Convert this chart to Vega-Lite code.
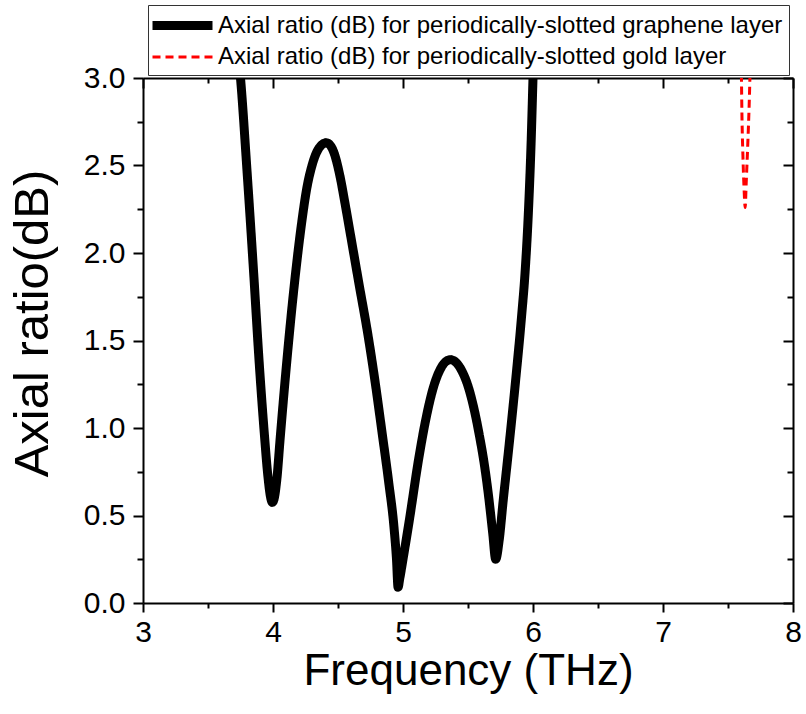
{
  "$schema": "https://vega.github.io/schema/vega-lite/v6.json",
  "width": 650,
  "height": 525,
  "autosize": "none",
  "padding": {"left": 143, "top": 78, "right": 13, "bottom": 111},
  "background": "white",
  "config": {
    "view": {"stroke": null},
    "font": "Liberation Sans",
    "axis": {"domainColor": "black", "domainWidth": 2, "tickColor": "black", "tickWidth": 2, "grid": false, "labelColor": "black", "titleColor": "black", "labelFont": "Liberation Sans", "titleFont": "Liberation Sans", "titleFontWeight": "normal"}
  },
  "data": {"values": [
    {"f": 3.735, "ar": 3.12, "s": "Axial ratio (dB) for periodically-slotted graphene layer"},
    {"f": 3.75, "ar": 3.0, "s": "Axial ratio (dB) for periodically-slotted graphene layer"},
    {"f": 3.80, "ar": 2.47, "s": "Axial ratio (dB) for periodically-slotted graphene layer"},
    {"f": 3.85, "ar": 1.90, "s": "Axial ratio (dB) for periodically-slotted graphene layer"},
    {"f": 3.895, "ar": 1.36, "s": "Axial ratio (dB) for periodically-slotted graphene layer"},
    {"f": 3.933, "ar": 0.97, "s": "Axial ratio (dB) for periodically-slotted graphene layer"},
    {"f": 3.96, "ar": 0.73, "s": "Axial ratio (dB) for periodically-slotted graphene layer"},
    {"f": 3.98, "ar": 0.61, "s": "Axial ratio (dB) for periodically-slotted graphene layer"},
    {"f": 3.995, "ar": 0.575, "s": "Axial ratio (dB) for periodically-slotted graphene layer"},
    {"f": 4.01, "ar": 0.60, "s": "Axial ratio (dB) for periodically-slotted graphene layer"},
    {"f": 4.03, "ar": 0.71, "s": "Axial ratio (dB) for periodically-slotted graphene layer"},
    {"f": 4.054, "ar": 0.93, "s": "Axial ratio (dB) for periodically-slotted graphene layer"},
    {"f": 4.10, "ar": 1.33, "s": "Axial ratio (dB) for periodically-slotted graphene layer"},
    {"f": 4.17, "ar": 1.86, "s": "Axial ratio (dB) for periodically-slotted graphene layer"},
    {"f": 4.22, "ar": 2.17, "s": "Axial ratio (dB) for periodically-slotted graphene layer"},
    {"f": 4.26, "ar": 2.37, "s": "Axial ratio (dB) for periodically-slotted graphene layer"},
    {"f": 4.30, "ar": 2.50, "s": "Axial ratio (dB) for periodically-slotted graphene layer"},
    {"f": 4.35, "ar": 2.595, "s": "Axial ratio (dB) for periodically-slotted graphene layer"},
    {"f": 4.41, "ar": 2.63, "s": "Axial ratio (dB) for periodically-slotted graphene layer"},
    {"f": 4.46, "ar": 2.59, "s": "Axial ratio (dB) for periodically-slotted graphene layer"},
    {"f": 4.515, "ar": 2.44, "s": "Axial ratio (dB) for periodically-slotted graphene layer"},
    {"f": 4.55, "ar": 2.30, "s": "Axial ratio (dB) for periodically-slotted graphene layer"},
    {"f": 4.59, "ar": 2.13, "s": "Axial ratio (dB) for periodically-slotted graphene layer"},
    {"f": 4.66, "ar": 1.83, "s": "Axial ratio (dB) for periodically-slotted graphene layer"},
    {"f": 4.733, "ar": 1.52, "s": "Axial ratio (dB) for periodically-slotted graphene layer"},
    {"f": 4.79, "ar": 1.24, "s": "Axial ratio (dB) for periodically-slotted graphene layer"},
    {"f": 4.836, "ar": 0.99, "s": "Axial ratio (dB) for periodically-slotted graphene layer"},
    {"f": 4.89, "ar": 0.69, "s": "Axial ratio (dB) for periodically-slotted graphene layer"},
    {"f": 4.931, "ar": 0.43, "s": "Axial ratio (dB) for periodically-slotted graphene layer"},
    {"f": 4.95, "ar": 0.25, "s": "Axial ratio (dB) for periodically-slotted graphene layer"},
    {"f": 4.962, "ar": 0.09, "s": "Axial ratio (dB) for periodically-slotted graphene layer"},
    {"f": 4.975, "ar": 0.14, "s": "Axial ratio (dB) for periodically-slotted graphene layer"},
    {"f": 5.0, "ar": 0.25, "s": "Axial ratio (dB) for periodically-slotted graphene layer"},
    {"f": 5.046, "ar": 0.46, "s": "Axial ratio (dB) for periodically-slotted graphene layer"},
    {"f": 5.122, "ar": 0.83, "s": "Axial ratio (dB) for periodically-slotted graphene layer"},
    {"f": 5.173, "ar": 1.04, "s": "Axial ratio (dB) for periodically-slotted graphene layer"},
    {"f": 5.237, "ar": 1.24, "s": "Axial ratio (dB) for periodically-slotted graphene layer"},
    {"f": 5.29, "ar": 1.34, "s": "Axial ratio (dB) for periodically-slotted graphene layer"},
    {"f": 5.33, "ar": 1.38, "s": "Axial ratio (dB) for periodically-slotted graphene layer"},
    {"f": 5.365, "ar": 1.39, "s": "Axial ratio (dB) for periodically-slotted graphene layer"},
    {"f": 5.40, "ar": 1.38, "s": "Axial ratio (dB) for periodically-slotted graphene layer"},
    {"f": 5.45, "ar": 1.33, "s": "Axial ratio (dB) for periodically-slotted graphene layer"},
    {"f": 5.50, "ar": 1.24, "s": "Axial ratio (dB) for periodically-slotted graphene layer"},
    {"f": 5.54, "ar": 1.13, "s": "Axial ratio (dB) for periodically-slotted graphene layer"},
    {"f": 5.587, "ar": 0.96, "s": "Axial ratio (dB) for periodically-slotted graphene layer"},
    {"f": 5.63, "ar": 0.77, "s": "Axial ratio (dB) for periodically-slotted graphene layer"},
    {"f": 5.66, "ar": 0.60, "s": "Axial ratio (dB) for periodically-slotted graphene layer"},
    {"f": 5.69, "ar": 0.40, "s": "Axial ratio (dB) for periodically-slotted graphene layer"},
    {"f": 5.713, "ar": 0.25, "s": "Axial ratio (dB) for periodically-slotted graphene layer"},
    {"f": 5.74, "ar": 0.36, "s": "Axial ratio (dB) for periodically-slotted graphene layer"},
    {"f": 5.77, "ar": 0.58, "s": "Axial ratio (dB) for periodically-slotted graphene layer"},
    {"f": 5.82, "ar": 0.93, "s": "Axial ratio (dB) for periodically-slotted graphene layer"},
    {"f": 5.87, "ar": 1.30, "s": "Axial ratio (dB) for periodically-slotted graphene layer"},
    {"f": 5.91, "ar": 1.62, "s": "Axial ratio (dB) for periodically-slotted graphene layer"},
    {"f": 5.94, "ar": 1.90, "s": "Axial ratio (dB) for periodically-slotted graphene layer"},
    {"f": 5.965, "ar": 2.24, "s": "Axial ratio (dB) for periodically-slotted graphene layer"},
    {"f": 5.985, "ar": 2.62, "s": "Axial ratio (dB) for periodically-slotted graphene layer"},
    {"f": 6.0, "ar": 3.0, "s": "Axial ratio (dB) for periodically-slotted graphene layer"},
    {"f": 6.006, "ar": 3.15, "s": "Axial ratio (dB) for periodically-slotted graphene layer"},
    {"f": 7.602, "ar": 3.1, "s": "Axial ratio (dB) for periodically-slotted gold layer"},
    {"f": 7.607, "ar": 2.8, "s": "Axial ratio (dB) for periodically-slotted gold layer"},
    {"f": 7.615, "ar": 2.55, "s": "Axial ratio (dB) for periodically-slotted gold layer"},
    {"f": 7.624, "ar": 2.36, "s": "Axial ratio (dB) for periodically-slotted gold layer"},
    {"f": 7.632, "ar": 2.26, "s": "Axial ratio (dB) for periodically-slotted gold layer"},
    {"f": 7.64, "ar": 2.4, "s": "Axial ratio (dB) for periodically-slotted gold layer"},
    {"f": 7.652, "ar": 2.62, "s": "Axial ratio (dB) for periodically-slotted gold layer"},
    {"f": 7.663, "ar": 2.85, "s": "Axial ratio (dB) for periodically-slotted gold layer"},
    {"f": 7.672, "ar": 3.1, "s": "Axial ratio (dB) for periodically-slotted gold layer"}
  ]},
  "encoding": {
    "color": {"field": "s", "type": "nominal", "scale": {"domain": ["Axial ratio (dB) for periodically-slotted graphene layer", "Axial ratio (dB) for periodically-slotted gold layer"], "range": ["#000000", "#ff0000"]},
      "legend": {"title": null, "orient": "none", "legendX": 5, "legendY": -73, "symbolType": "M-3,0H3", "symbolSize": 400, "labelFontSize": 24, "labelFont": "Liberation Sans", "labelColor": "black", "padding": 6, "rowPadding": 1, "symbolOffset": 14, "labelOffset": 21, "strokeColor": "#333333", "fillColor": "white", "labelLimit": 800, "symbolStrokeWidth": 3}},
    "strokeDash": {"field": "s", "type": "nominal", "scale": {"domain": ["Axial ratio (dB) for periodically-slotted graphene layer", "Axial ratio (dB) for periodically-slotted gold layer"], "range": [[1, 0], [8, 5]]}},
    "strokeWidth": {"field": "s", "type": "ordinal", "scale": {"domain": ["Axial ratio (dB) for periodically-slotted graphene layer", "Axial ratio (dB) for periodically-slotted gold layer"], "range": [9, 3]}}
  },
  "layer": [
    {
      "transform": [{"filter": "indexof(datum.s, 'graphene') >= 0"}],
      "mark": {"type": "line", "interpolate": "monotone", "clip": true, "strokeCap": "round", "strokeJoin": "round"},
      "encoding": {
        "x": {"field": "f", "type": "quantitative", "scale": {"domain": [3, 8], "nice": false, "zero": false},
          "axis": {"orient": "bottom", "values": [3, 3.5, 4, 4.5, 5, 5.5, 6, 6.5, 7, 7.5, 8], "format": ".0f", "labelExpr": "datum.value % 1 === 0 ? datum.label : ''", "tickSize": {"condition": {"test": "datum.value % 1 === 0", "value": 9}, "value": 5}, "labelFontSize": 30, "labelPadding": 5, "title": "Frequency (THz)", "titleFontSize": 44, "titlePadding": 2, "labelFlush": false}},
        "y": {"field": "ar", "type": "quantitative", "scale": {"domain": [0, 3], "nice": false, "zero": false},
          "axis": {"orient": "left", "values": [0, 0.25, 0.5, 0.75, 1, 1.25, 1.5, 1.75, 2, 2.25, 2.5, 2.75, 3], "format": ".1f", "labelExpr": "datum.value % 0.5 === 0 ? datum.label : ''", "tickSize": {"condition": {"test": "datum.value % 0.5 === 0", "value": 10}, "value": 6}, "labelFontSize": 30, "labelPadding": 8, "title": "Axial ratio(dB)", "titleFontSize": 49, "titlePadding": 26, "titleY": 245, "labelFlush": false}}
      }
    },
    {
      "transform": [{"filter": "indexof(datum.s, 'gold') >= 0"}],
      "mark": {"type": "line", "interpolate": "monotone", "clip": true},
      "encoding": {
        "x": {"field": "f", "type": "quantitative", "scale": {"domain": [3, 8], "nice": false, "zero": false},
          "axis": {"orient": "top", "values": [3, 3.5, 4, 4.5, 5, 5.5, 6, 6.5, 7, 7.5, 8], "labels": false, "title": null, "tickSize": {"condition": {"test": "datum.value % 1 === 0", "value": -10}, "value": -5}}},
        "y": {"field": "ar", "type": "quantitative", "scale": {"domain": [0, 3], "nice": false, "zero": false},
          "axis": {"orient": "right", "values": [0, 0.25, 0.5, 0.75, 1, 1.25, 1.5, 1.75, 2, 2.25, 2.5, 2.75, 3], "labels": false, "title": null, "tickSize": {"condition": {"test": "datum.value % 0.5 === 0", "value": -10}, "value": -6}}}
      }
    }
  ],
  "resolve": {"axis": {"x": "independent", "y": "independent"}}
}
